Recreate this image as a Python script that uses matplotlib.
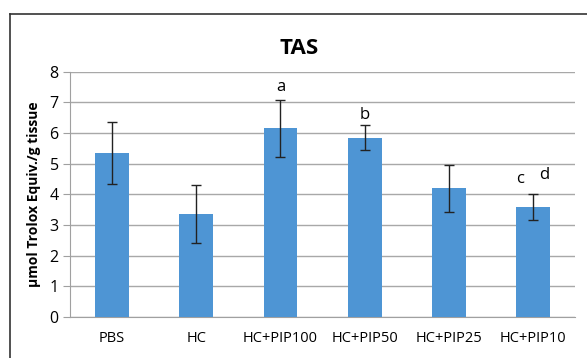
import matplotlib
matplotlib.use("Agg")
import matplotlib.pyplot as plt
from matplotlib.lines import Line2D

categories = ["PBS", "HC", "HC+PIP100", "HC+PIP50", "HC+PIP25", "HC+PIP10"]
values = [5.35, 3.35, 6.15, 5.85, 4.2, 3.6]
errors = [1.0, 0.95, 0.93, 0.4, 0.77, 0.42]
yticks = [0, 1, 2, 3, 4, 5, 6, 7, 8]

plt.rcParams['font.family'] = ['Open Sans', 'DejaVu Sans']

fig = plt.figure(figsize=(5.87, 3.58), dpi=100)
ax = fig.add_axes([0.119, 0.1145, 0.861, 0.685])

x = list(range(len(categories)))
ax.bar(x, values, width=0.4, color="#4E95D4", zorder=3)
ax.errorbar(x, values, yerr=errors, fmt="none", ecolor="#222222",
            elinewidth=1.0, capsize=3.5, capthick=1.0, zorder=4)

ax.set_xlim(-0.5, len(categories) - 0.5)
ax.set_ylim(0, 8)
ax.set_yticks(yticks)
ax.set_xticks(x)
ax.set_xticklabels(categories, fontsize=10.5)
ax.tick_params(axis='x', length=0, pad=10)
ax.tick_params(axis='y', length=5, color="#A0A0A0", labelsize=11.5, pad=3)
ax.yaxis.grid(True, color="#A8A8A8", linewidth=1.0, zorder=0)
ax.set_axisbelow(True)
for s in ["top", "right"]:
    ax.spines[s].set_visible(False)
ax.spines["left"].set_color("#A0A0A0")
ax.spines["bottom"].set_color("#A0A0A0")

ax.set_ylabel("μmol Trolox Equiv./g tissue", fontsize=10, fontweight="bold", labelpad=6)
fig.text(0.51, 0.865, "TAS", ha="center", va="center", fontsize=16, fontweight="bold")

ax.text(2, 7.5, "a", ha="center", va="center", fontsize=12)
ax.text(3, 6.6, "b", ha="center", va="center", fontsize=12)
ax.text(4.85, 4.5, "c", ha="center", va="center", fontsize=12)
ax.text(5.13, 4.62, "d", ha="center", va="center", fontsize=12)

# outer frame
fig.add_artist(Line2D([0.017, 0.017], [0.0, 0.961], transform=fig.transFigure, color="#333333", linewidth=1.2))
fig.add_artist(Line2D([0.017, 1.0], [0.961, 0.961], transform=fig.transFigure, color="#333333", linewidth=1.2))

fig.savefig("out.png", dpi=100)
